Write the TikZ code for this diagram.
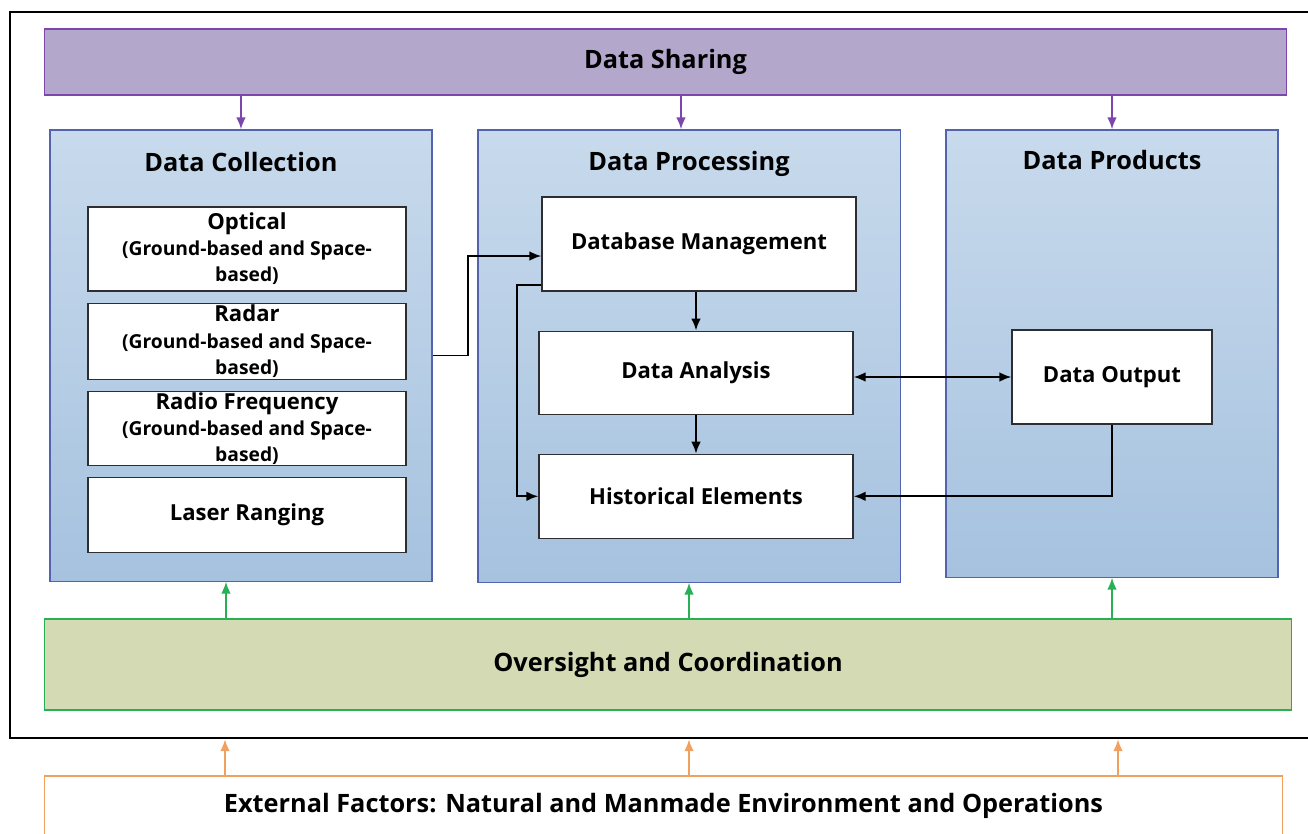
\documentclass[tikz,border=0pt]{standalone}
\usepackage{fontspec}
\setmainfont{Open Sans}
\usetikzlibrary{positioning,arrows.meta}
\definecolor{shFill}{RGB}{180,167,204}
\definecolor{shLine}{RGB}{125,70,175}
\definecolor{pnTop}{RGB}{200,218,236}
\definecolor{pnBot}{RGB}{166,194,223}
\definecolor{pnLine}{RGB}{82,100,176}
\definecolor{ovFill}{RGB}{212,218,180}
\definecolor{ovLine}{RGB}{40,176,85}
\definecolor{exLine}{RGB}{240,160,95}
\definecolor{boxLine}{RGB}{45,45,50}
% smaller second line inside the source boxes
\newcommand{\subline}[1]{{\fontsize{13.7}{18.5}\selectfont #1}}
\tikzset{
    base/.style={font=\bfseries\fontsize{15.7}{18.5}\selectfont, align=center, text=black},
    big/.style={font=\bfseries\fontsize{18}{21}\selectfont, align=center, text=black},
    band/.style={big, rectangle, thick, inner sep=0pt},
    panel/.style={rectangle, draw=pnLine, thick, top color=pnTop, bottom color=pnBot, inner sep=0pt},
    paneltitle/.style={big, anchor=base},
    item/.style={base, rectangle, draw=boxLine, thick, fill=white, inner sep=0pt},
    flow/.style={-{Latex[length=3mm,width=2.4mm]}, line width=1.4pt, color=black},
    shareflow/.style={flow, color=shLine},
    overflow/.style={flow, color=ovLine},
    extflow/.style={flow, color=exLine}
}

\begin{document}
\begin{tikzpicture}[x=0.025cm, y=-0.025cm]
  \useasboundingbox (0,0) rectangle (1308,834);

  % Outer frame
  \node[rectangle, draw=black, line width=1.5pt, fill=white, minimum width=32.75cm, minimum height=18.15cm] (frame) at (665,375) {};

  % Bands
  \node[band, draw=shLine, fill=shFill, minimum width=31.025cm, minimum height=1.65cm] (share) at (665.5,62) {Data Sharing};
  \node[band, draw=ovLine, fill=ovFill, minimum width=31.15cm, minimum height=2.275cm] (oversight) at (668,664.5) {Oversight and Coordination};
  \node[band, draw=exLine, fill=white, minimum width=30.925cm, minimum height=1.5cm] (external) at (663.5,806) {External Factors: Natural and Manmade Environment and Operations};

  % Panels
  \node[panel, minimum width=9.55cm, minimum height=11.275cm] (collect) at (241,355.5) {};
  \node[panel, minimum width=10.55cm, minimum height=11.3cm] (process) at (689,356) {};
  \node[panel, minimum width=8.3cm, minimum height=11.175cm] (products) at (1112,353.5) {};
  \node[paneltitle] (collectTitle) at ([yshift=-1.05cm]collect.north) {Data Collection};
  \node[paneltitle] (processTitle) at ([yshift=-1.03cm]process.north) {Data Processing};
  \node[paneltitle] (productsTitle) at ([yshift=-1cm]products.north) {Data Products};

  % Collection sources
  \node[item, minimum width=7.95cm, minimum height=2.1cm] (optical) at (247,249)
    {Optical\\\subline{(Ground-based and Space-}\\\subline{based)}};
  \node[item, minimum width=7.95cm, minimum height=1.9cm, below=0.275cm of optical] (radar)
    {Radar\\\subline{(Ground-based and Space-}\\\subline{based)}};
  \node[item, minimum width=7.95cm, minimum height=1.85cm, below=0.275cm of radar] (radio)
    {Radio Frequency\\\subline{(Ground-based and Space-}\\\subline{based)}};
  \node[item, minimum width=7.95cm, minimum height=1.875cm, below=0.275cm of radio] (laser) {Laser Ranging};

  % Processing steps
  \node[item, minimum width=7.85cm, minimum height=2.35cm] (dbm) at (699,244) {Database Management};
  \node[item, minimum width=7.85cm, minimum height=2.075cm, below=0.975cm of dbm, xshift=-0.075cm] (analysis) {Data Analysis};
  \node[item, minimum width=7.85cm, minimum height=2.1cm, below=0.975cm of analysis] (history) {Historical Elements};

  % Products
  \node[item, minimum width=5cm, minimum height=2.35cm] (output) at (1112,377) {Data Output};

  % Sharing feeds the panels
  \draw[shareflow] (collect.north |- share.south) -- (collect.north);
  \draw[shareflow] ([xshift=-0.2cm]process.north |- share.south) -- ([xshift=-0.2cm]process.north);
  \draw[shareflow] (products.north |- share.south) -- (products.north);

  % Oversight supports the panels
  \draw[overflow] ([xshift=-0.375cm]collect.south |- oversight.north) -- ([xshift=-0.375cm]collect.south);
  \draw[overflow] (process.south |- oversight.north) -- (process.south);
  \draw[overflow] (products.south |- oversight.north) -- (products.south);

  % External factors act on the whole system
  \draw[extflow] ([xshift=-0.4cm]collect.south |- external.north) -- ([xshift=-0.4cm]collect.south |- frame.south);
  \draw[extflow] (process.south |- external.north) -- (process.south |- frame.south);
  \draw[extflow] ([xshift=0.15cm]products.south |- external.north) -- ([xshift=0.15cm]products.south |- frame.south);

  % Data flow
  \draw[flow] (collect.east) -- ++(35,0) |- ([yshift=-0.3cm]dbm.west);
  \draw[flow] (analysis.north |- dbm.south) -- (analysis.north);
  \draw[flow] (analysis.south) -- (history.north);
  \draw[flow] ([yshift=0.175cm]dbm.south west) -- ++(-24,0) |- (history.west);
  \draw[flow, {Latex[length=3mm,width=2.4mm]}-{Latex[length=3mm,width=2.4mm]}] (output.west -| analysis.east) -- (output.west);
  \draw[flow] (output.south) |- (history.east);
\end{tikzpicture}
\end{document}
